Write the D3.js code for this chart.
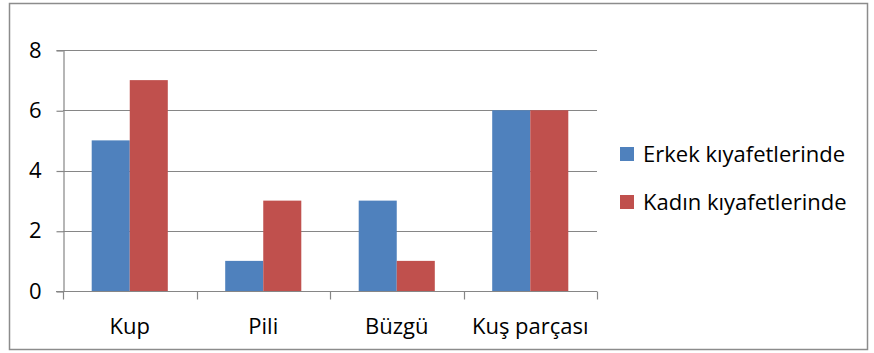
<!DOCTYPE html>
<html>
<head>
<meta charset="utf-8">
<script src="https://cdn.jsdelivr.net/npm/d3@7/dist/d3.min.js"></script>
<style>
  html, body { margin: 0; padding: 0; background: #fff; }
  svg { display: block; font-family: "Open Sans", "Noto Sans", sans-serif; }
</style>
</head>
<body>
<svg id="chart" width="874" height="353"></svg>
<script>
// Garment details counted per category, split by men's / women's clothing
const categories = ["Kup", "Pili", "Büzgü", "Kuş parçası"];
const seriesNames = ["Erkek kıyafetlerinde", "Kadın kıyafetlerinde"];
const erkekValues = [5, 1, 3, 6];
const kadinValues = [7, 3, 1, 6];
const yTicks = [0, 2, 4, 6, 8];
const colors = ["#4F81BD", "#C0504D"];

const FONT = "'Open Sans', 'Noto Sans', sans-serif";
const FS = 22;
const svg = d3.select("#chart");

// Outer chart frame
svg.append("rect")
  .attr("x", 9.5).attr("y", 3.5)
  .attr("width", 858).attr("height", 346)
  .attr("fill", "#fff")
  .attr("stroke", "#8c8c8c").attr("stroke-width", 1.5);

const plot = { left: 63, right: 597, top: 50, bottom: 291 };

const x = d3.scaleBand()
  .domain(categories)
  .range([plot.left, plot.right])
  .paddingInner(0.43)
  .paddingOuter(0.215);

const xs = d3.scaleBand()
  .domain(seriesNames)
  .range([0, x.bandwidth()]);

const y = d3.scaleLinear()
  .domain([0, 8])
  .range([plot.bottom, plot.top]);

// Horizontal gridlines
svg.append("g")
  .selectAll("line")
  .data(yTicks.filter(d => d > 0))
  .join("line")
  .attr("x1", plot.left).attr("x2", plot.right)
  .attr("y1", d => Math.round(y(d)) + 0.5).attr("y2", d => Math.round(y(d)) + 0.5)
  .attr("stroke", "#868686").attr("stroke-width", 1.2);

// Bars
const rows = categories.map((c, i) => ({ cat: c, vals: [erkekValues[i], kadinValues[i]] }));
const groups = svg.append("g")
  .selectAll("g")
  .data(rows)
  .join("g")
  .attr("transform", d => `translate(${x(d.cat)},0)`);

groups.selectAll("rect")
  .data(d => d.vals.map((v, k) => ({ name: seriesNames[k], v, k })))
  .join("rect")
  .attr("x", d => xs(d.name))
  .attr("y", d => y(d.v))
  .attr("width", xs.bandwidth())
  .attr("height", d => y(0) - y(d.v))
  .attr("fill", d => colors[d.k]);

// Y axis
const yAxis = d3.axisLeft(y).tickValues(yTicks).tickSize(7).tickPadding(15).tickFormat(d3.format("d"));
const gy = svg.append("g")
  .attr("transform", `translate(${plot.left + 0.5},0)`)
  .call(yAxis);
gy.select(".domain").attr("stroke", "#868686").attr("stroke-width", 1.2);
gy.selectAll(".tick line").attr("stroke", "#868686").attr("stroke-width", 1.2)
  .attr("transform", "translate(0,0.5)");
gy.selectAll(".tick text").attr("font-size", FS).attr("fill", "#000")
  .attr("font-family", FONT);

// X axis: ticks at category boundaries, labels at centers
const gx = svg.append("g")
  .attr("transform", `translate(0,${plot.bottom + 0.5})`);
gx.append("line")
  .attr("x1", plot.left - 7).attr("x2", plot.right)
  .attr("stroke", "#868686").attr("stroke-width", 1.2);
const step = x.step();
const boundaries = d3.range(categories.length + 1).map(i => plot.left + i * step);
gx.selectAll("line.tick")
  .data(boundaries)
  .join("line")
  .attr("class", "tick")
  .attr("x1", d => Math.round(d) + 0.5).attr("x2", d => Math.round(d) + 0.5)
  .attr("y1", 0).attr("y2", 8)
  .attr("stroke", "#868686").attr("stroke-width", 1.2);
gx.selectAll("text")
  .data(categories)
  .join("text")
  .attr("x", d => x(d) + x.bandwidth() / 2)
  .attr("y", 42)
  .attr("text-anchor", "middle")
  .attr("font-size", FS)
  .attr("font-family", FONT)
  .attr("fill", "#000")
  .text(d => d);

// Legend
const legend = svg.append("g")
  .selectAll("g")
  .data(seriesNames)
  .join("g")
  .attr("transform", (d, i) => `translate(620,${147 + i * 48})`);
legend.append("rect")
  .attr("width", 14).attr("height", 14)
  .attr("fill", (d, i) => colors[i]);
legend.append("text")
  .attr("x", 23).attr("y", 14.5)
  .attr("font-size", FS)
  .attr("font-family", FONT)
  .attr("fill", "#000")
  .text(d => d);
</script>
</body>
</html>
